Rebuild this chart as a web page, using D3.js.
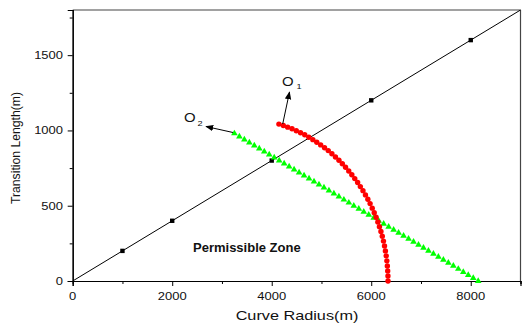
<!DOCTYPE html>
<html><head><meta charset="utf-8">
<script src="https://cdn.jsdelivr.net/npm/d3@7"></script>
<style>body{margin:0;background:#fff}svg{display:block}</style>
</head><body>
<svg id="c" width="522" height="325"></svg>
<script>
const xTicksMajor = [0, 2000, 4000, 6000, 8000];
const xTicksMinor = [1000, 3000, 5000, 7000, 9000];
const yTicksMajor = [0, 500, 1000, 1500];
const yTicksMinor = [250, 750, 1250, 1750];

const lineR = [0, 9000];
const lineL = [0, 1800];
const squareR = [1000, 2000, 4000, 6000, 8000];
const squareL = [200, 400, 800, 1200, 1600];

const redR = [4144,4233,4321,4408,4494,4579,4663,4746,4827,4906,4984,5062,5136,5210,5281,5351,5419,5484,5548,5610,5669,5727,5781,5834,5884,5932,5977,6020,6060,6098,6133,6165,6195,6222,6246,6267,6285,6301,6314,6324,6331,6336,6337];
const redL = [1042,1033,1022,1011,998,985,971,955,939,922,904,885,866,845,824,802,779,756,731,706,680,654,627,600,572,543,514,484,454,423,392,361,329,297,265,232,200,167,134,100,67,33,0];

const greenR = [3250,3350,3450,3550,3650,3750,3850,3950,4050,4150,4250,4350,4450,4550,4650,4750,4850,4950,5050,5150,5250,5350,5450,5550,5650,5750,5850,5950,6050,6150,6250,6350,6450,6550,6650,6750,6850,6950,7050,7150,7250,7350,7450,7550,7650,7750,7850,7950,8050,8150];
const greenL = [980,960,940,920,900,880,860,840,820,800,780,760,740,720,700,680,660,640,620,600,580,560,540,520,500,480,460,440,420,400,380,360,340,320,300,280,260,240,220,200,180,160,140,120,100,80,60,40,20,0];

const svg = d3.select("#c");
const FONT = "'Liberation Sans', Arial, sans-serif";
const x = d3.scaleLinear().domain([0, 9000]).range([72.7, 520.5]);
const y = d3.scaleLinear().domain([0, 1800]).range([281, 10]);

// frame
svg.append("line").attr("x1", x(0)).attr("x2", x(9000)).attr("y1", y(1800)).attr("y2", y(1800)).attr("stroke", "#444").attr("stroke-width", 1.2);
svg.append("line").attr("x1", x(9000)).attr("x2", x(9000)).attr("y1", y(0)).attr("y2", y(1800)).attr("stroke", "#444").attr("stroke-width", 1.2);

// axes
const gx = svg.append("g").attr("transform", `translate(0,${y(0)})`);
gx.call(d3.axisBottom(x).tickValues(xTicksMajor).tickSize(5).tickFormat(""));
gx.append("g").call(d3.axisBottom(x).tickValues(xTicksMinor).tickSize(3).tickFormat(""));
gx.selectAll(".domain").attr("stroke", "#000").attr("stroke-width", 1.2);
gx.selectAll("line").attr("stroke", "#000");
const gy = svg.append("g").attr("transform", `translate(${x(0)},0)`);
gy.call(d3.axisLeft(y).tickValues(yTicksMajor).tickSize(5).tickFormat(""));
gy.append("g").call(d3.axisLeft(y).tickValues(yTicksMinor).tickSize(3).tickFormat(""));
gy.selectAll(".domain").attr("stroke", "#000").attr("stroke-width", 1.2);
gy.selectAll("line").attr("stroke", "#000");

function txt(s, tx, ty, size, anchor, sx, weight) {
  return svg.append("text").attr("transform", `translate(${tx},${ty}) scale(${sx},1)`)
    .attr("text-anchor", anchor).attr("font-family", FONT).attr("font-size", size)
    .attr("font-weight", weight || "normal").attr("fill", "#111").text(s);
}
xTicksMajor.forEach(v => txt(String(v), x(v), 300, 11, "middle", 1.18));
yTicksMajor.forEach(v => txt(String(v), 63, y(v) + 4, 11, "end", 1.18));

txt("Curve Radius(m)", 297, 320, 12.5, "middle", 1.3);
svg.append("text").attr("transform", "translate(20,148) rotate(-90)")
  .attr("text-anchor", "middle").attr("font-family", FONT).attr("font-size", 12.2).attr("fill", "#111")
  .text("Transition Length(m)");

// black line
const lineData = lineR.map((r, i) => [r, lineL[i]]);
svg.append("path").datum(lineData).attr("fill", "none").attr("stroke", "#000").attr("stroke-width", 1)
  .attr("d", d3.line().x(d => x(d[0])).y(d => y(d[1])));
svg.selectAll(".sq").data(squareR.map((r, i) => [r, squareL[i]])).enter().append("rect")
  .attr("x", d => x(d[0]) - 2.2).attr("y", d => y(d[1]) - 2.2).attr("width", 4.4).attr("height", 4.4).attr("fill", "#000");

// green triangles
svg.selectAll(".tri").data(greenR.map((r, i) => [r, greenL[i]])).enter().append("path")
  .attr("transform", d => `translate(${x(d[0])},${y(d[1])})`)
  .attr("d", d3.symbol().type(d3.symbolTriangle).size(19)).attr("fill", "#00ff00");

// red circles
svg.selectAll(".dot").data(redR.map((r, i) => [r, redL[i]])).enter().append("circle")
  .attr("cx", d => x(d[0])).attr("cy", d => y(d[1])).attr("r", 2.7).attr("fill", "#ff0000");

// arrows
const defs = svg.append("defs");
defs.append("marker").attr("id", "ah").attr("viewBox", "0 0 10 10").attr("refX", 9).attr("refY", 5)
  .attr("markerWidth", 8).attr("markerHeight", 8).attr("markerUnits", "userSpaceOnUse").attr("orient", "auto")
  .append("path").attr("d", "M0,1 L10,5 L0,9 Z").attr("fill", "#000");
svg.append("line").attr("x1", 282.7).attr("y1", 124).attr("x2", 289.5).attr("y2", 92).attr("stroke", "#000").attr("stroke-width", 1).attr("marker-end", "url(#ah)");
svg.append("line").attr("x1", 233).attr("y1", 132.5).attr("x2", 206).attr("y2", 126.5).attr("stroke", "#000").attr("stroke-width", 1).attr("marker-end", "url(#ah)");

txt("O", 282, 86, 13, "start", 1.15);
txt("1", 296.5, 89, 8, "start", 1.15);
txt("O", 184, 122, 13, "start", 1.15);
txt("2", 197.5, 126, 8, "start", 1.15);

txt("Permissible Zone", 193, 252, 13, "start", 1.0, "bold");
</script>
</body></html>
